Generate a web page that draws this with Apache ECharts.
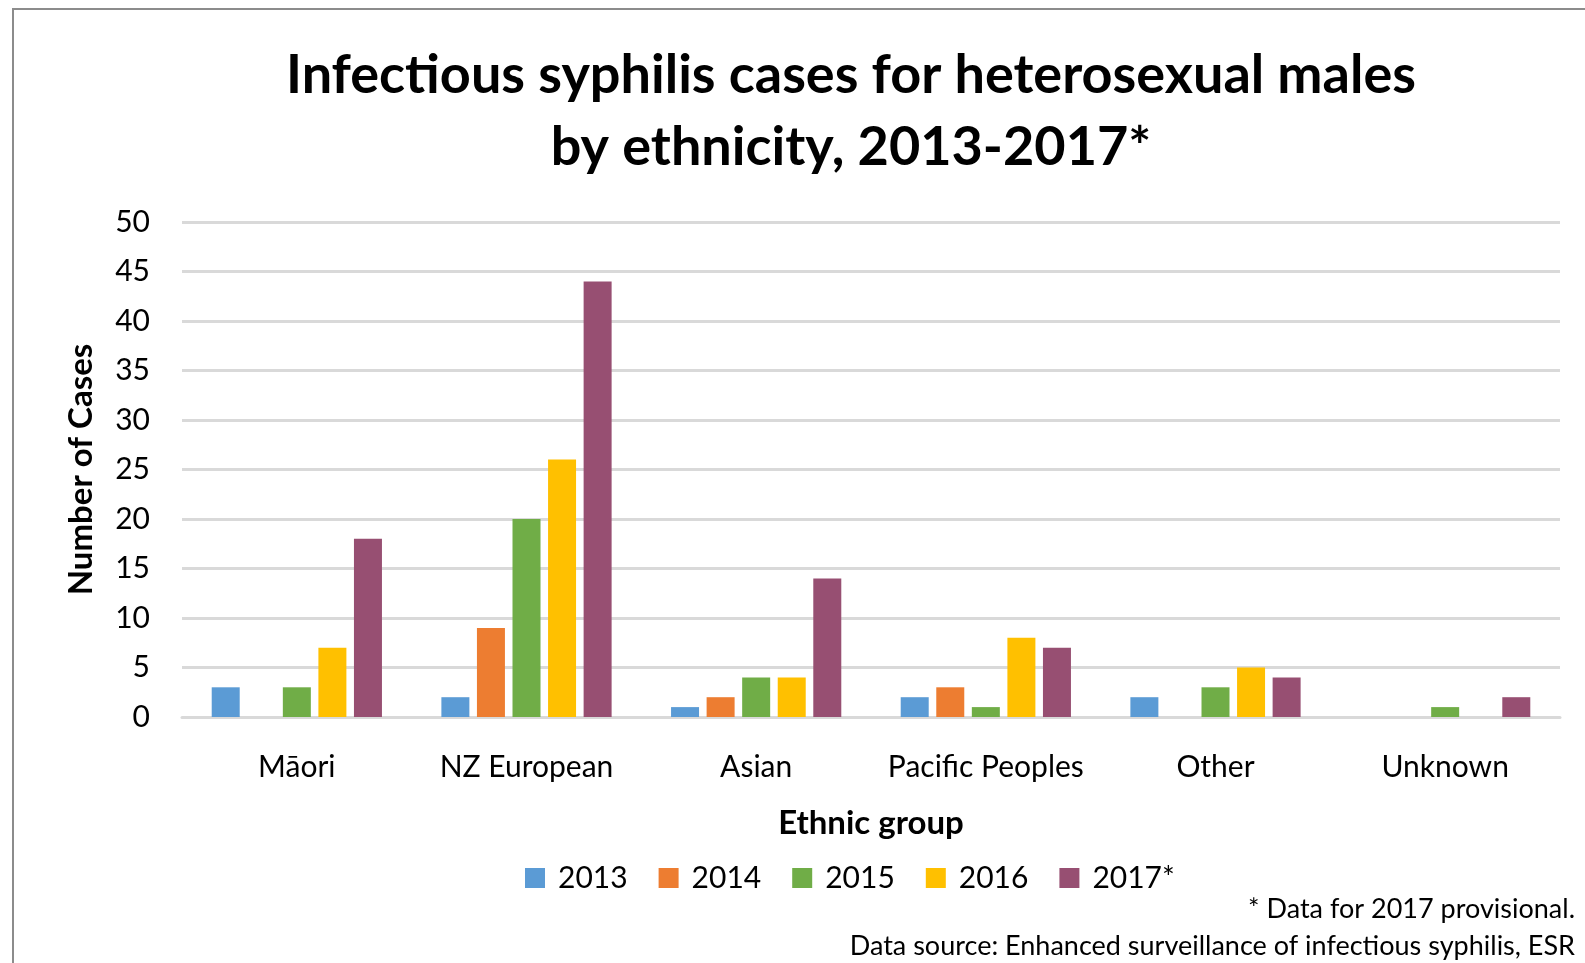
<!DOCTYPE html>
<html>
<head>
<meta charset="utf-8">
<script src="https://cdn.jsdelivr.net/npm/echarts@6/dist/echarts.min.js"></script>
<style>
  html, body { margin: 0; padding: 0; background: #fff; }
  #chart { width: 1585px; height: 963px; }
</style>
</head>
<body>
<div id="chart"></div>
<script>
// Ethnic groups along the x axis
const categories = ['Māori', 'NZ European', 'Asian', 'Pacific Peoples', 'Other', 'Unknown'];
// Case counts per year, one value per ethnic group
const cases2013 = [3, 2, 1, 2, 2, 0];
const cases2014 = [0, 9, 2, 3, 0, 0];
const cases2015 = [3, 20, 4, 1, 3, 1];
const cases2016 = [7, 26, 4, 8, 5, 0];
const cases2017 = [18, 44, 14, 7, 4, 2];
const yearNames = ['2013', '2014', '2015', '2016', '2017*'];
const yearColors = ['#5B9BD5', '#ED7D31', '#70AD47', '#FFC000', '#974F72'];

const font = 'Lato, "Open Sans", sans-serif';
const seriesData = [cases2013, cases2014, cases2015, cases2016, cases2017];

const chart = echarts.init(document.getElementById('chart'));
chart.setOption({
  animation: false,
  textStyle: { fontFamily: font, color: '#000' },
  graphic: [
    // outer frame of the chart area
    {
      type: 'rect',
      shape: { x: 13, y: 9, width: 1700, height: 1100 },
      style: { fill: 'none', stroke: '#8c8c8c', lineWidth: 2 },
      silent: true
    },
    // two-line title, centred on the framed area
    {
      type: 'text',
      x: 851,
      y: 76,
      style: {
        text: 'Infectious syphilis cases for heterosexual males',
        font: 'bold 54px ' + font, fill: '#000', textAlign: 'center', textVerticalAlign: 'middle'
      }
    },
    {
      type: 'text',
      x: 851,
      y: 148,
      style: {
        text: 'by ethnicity, 2013-2017*',
        font: 'bold 54px ' + font, fill: '#000', textAlign: 'center', textVerticalAlign: 'middle'
      }
    },
    {
      type: 'text',
      right: 10,
      top: 896,
      style: { text: '* Data for 2017 provisional.', font: '27px ' + font, fill: '#000', textAlign: 'right' }
    },
    {
      type: 'text',
      right: 10,
      top: 933,
      style: { text: 'Data source: Enhanced surveillance of infectious syphilis, ESR', font: '27px ' + font, fill: '#000', textAlign: 'right' }
    }
  ],
  legend: {
    data: yearNames,
    top: 858,
    left: 520,
    itemWidth: 20,
    itemHeight: 20,
    itemGap: 31,
    icon: 'rect',
    textStyle: { fontFamily: font, fontSize: 30, color: '#000', padding: [0, 0, 0, 8] }
  },
  grid: { left: 182, right: 25, top: 222, bottom: 246, containLabel: false },
  xAxis: {
    type: 'category',
    data: categories,
    name: 'Ethnic group',
    nameLocation: 'middle',
    nameGap: 90,
    nameTextStyle: { fontFamily: font, fontWeight: 'bold', fontSize: 33, color: '#000' },
    axisLine: { lineStyle: { color: '#d9d9d9', width: 3 } },
    axisTick: { show: false },
    axisLabel: { interval: 0, fontFamily: font, fontSize: 30, color: '#000', margin: 35 }
  },
  yAxis: {
    type: 'value',
    min: 0,
    max: 50,
    interval: 5,
    name: 'Number of Cases',
    nameLocation: 'middle',
    nameGap: 84,
    nameTextStyle: { fontFamily: font, fontWeight: 'bold', fontSize: 33, color: '#000' },
    axisLine: { show: false },
    axisTick: { show: false },
    axisLabel: { fontFamily: font, fontSize: 30, color: '#000', margin: 32 },
    splitLine: { lineStyle: { color: '#d9d9d9', width: 3 } }
  },
  series: seriesData.map((d, i) => ({
    name: yearNames[i],
    type: 'bar',
    data: d,
    barWidth: 28,
    barGap: '27%',
    itemStyle: { color: yearColors[i] }
  }))
});
</script>
</body>
</html>
